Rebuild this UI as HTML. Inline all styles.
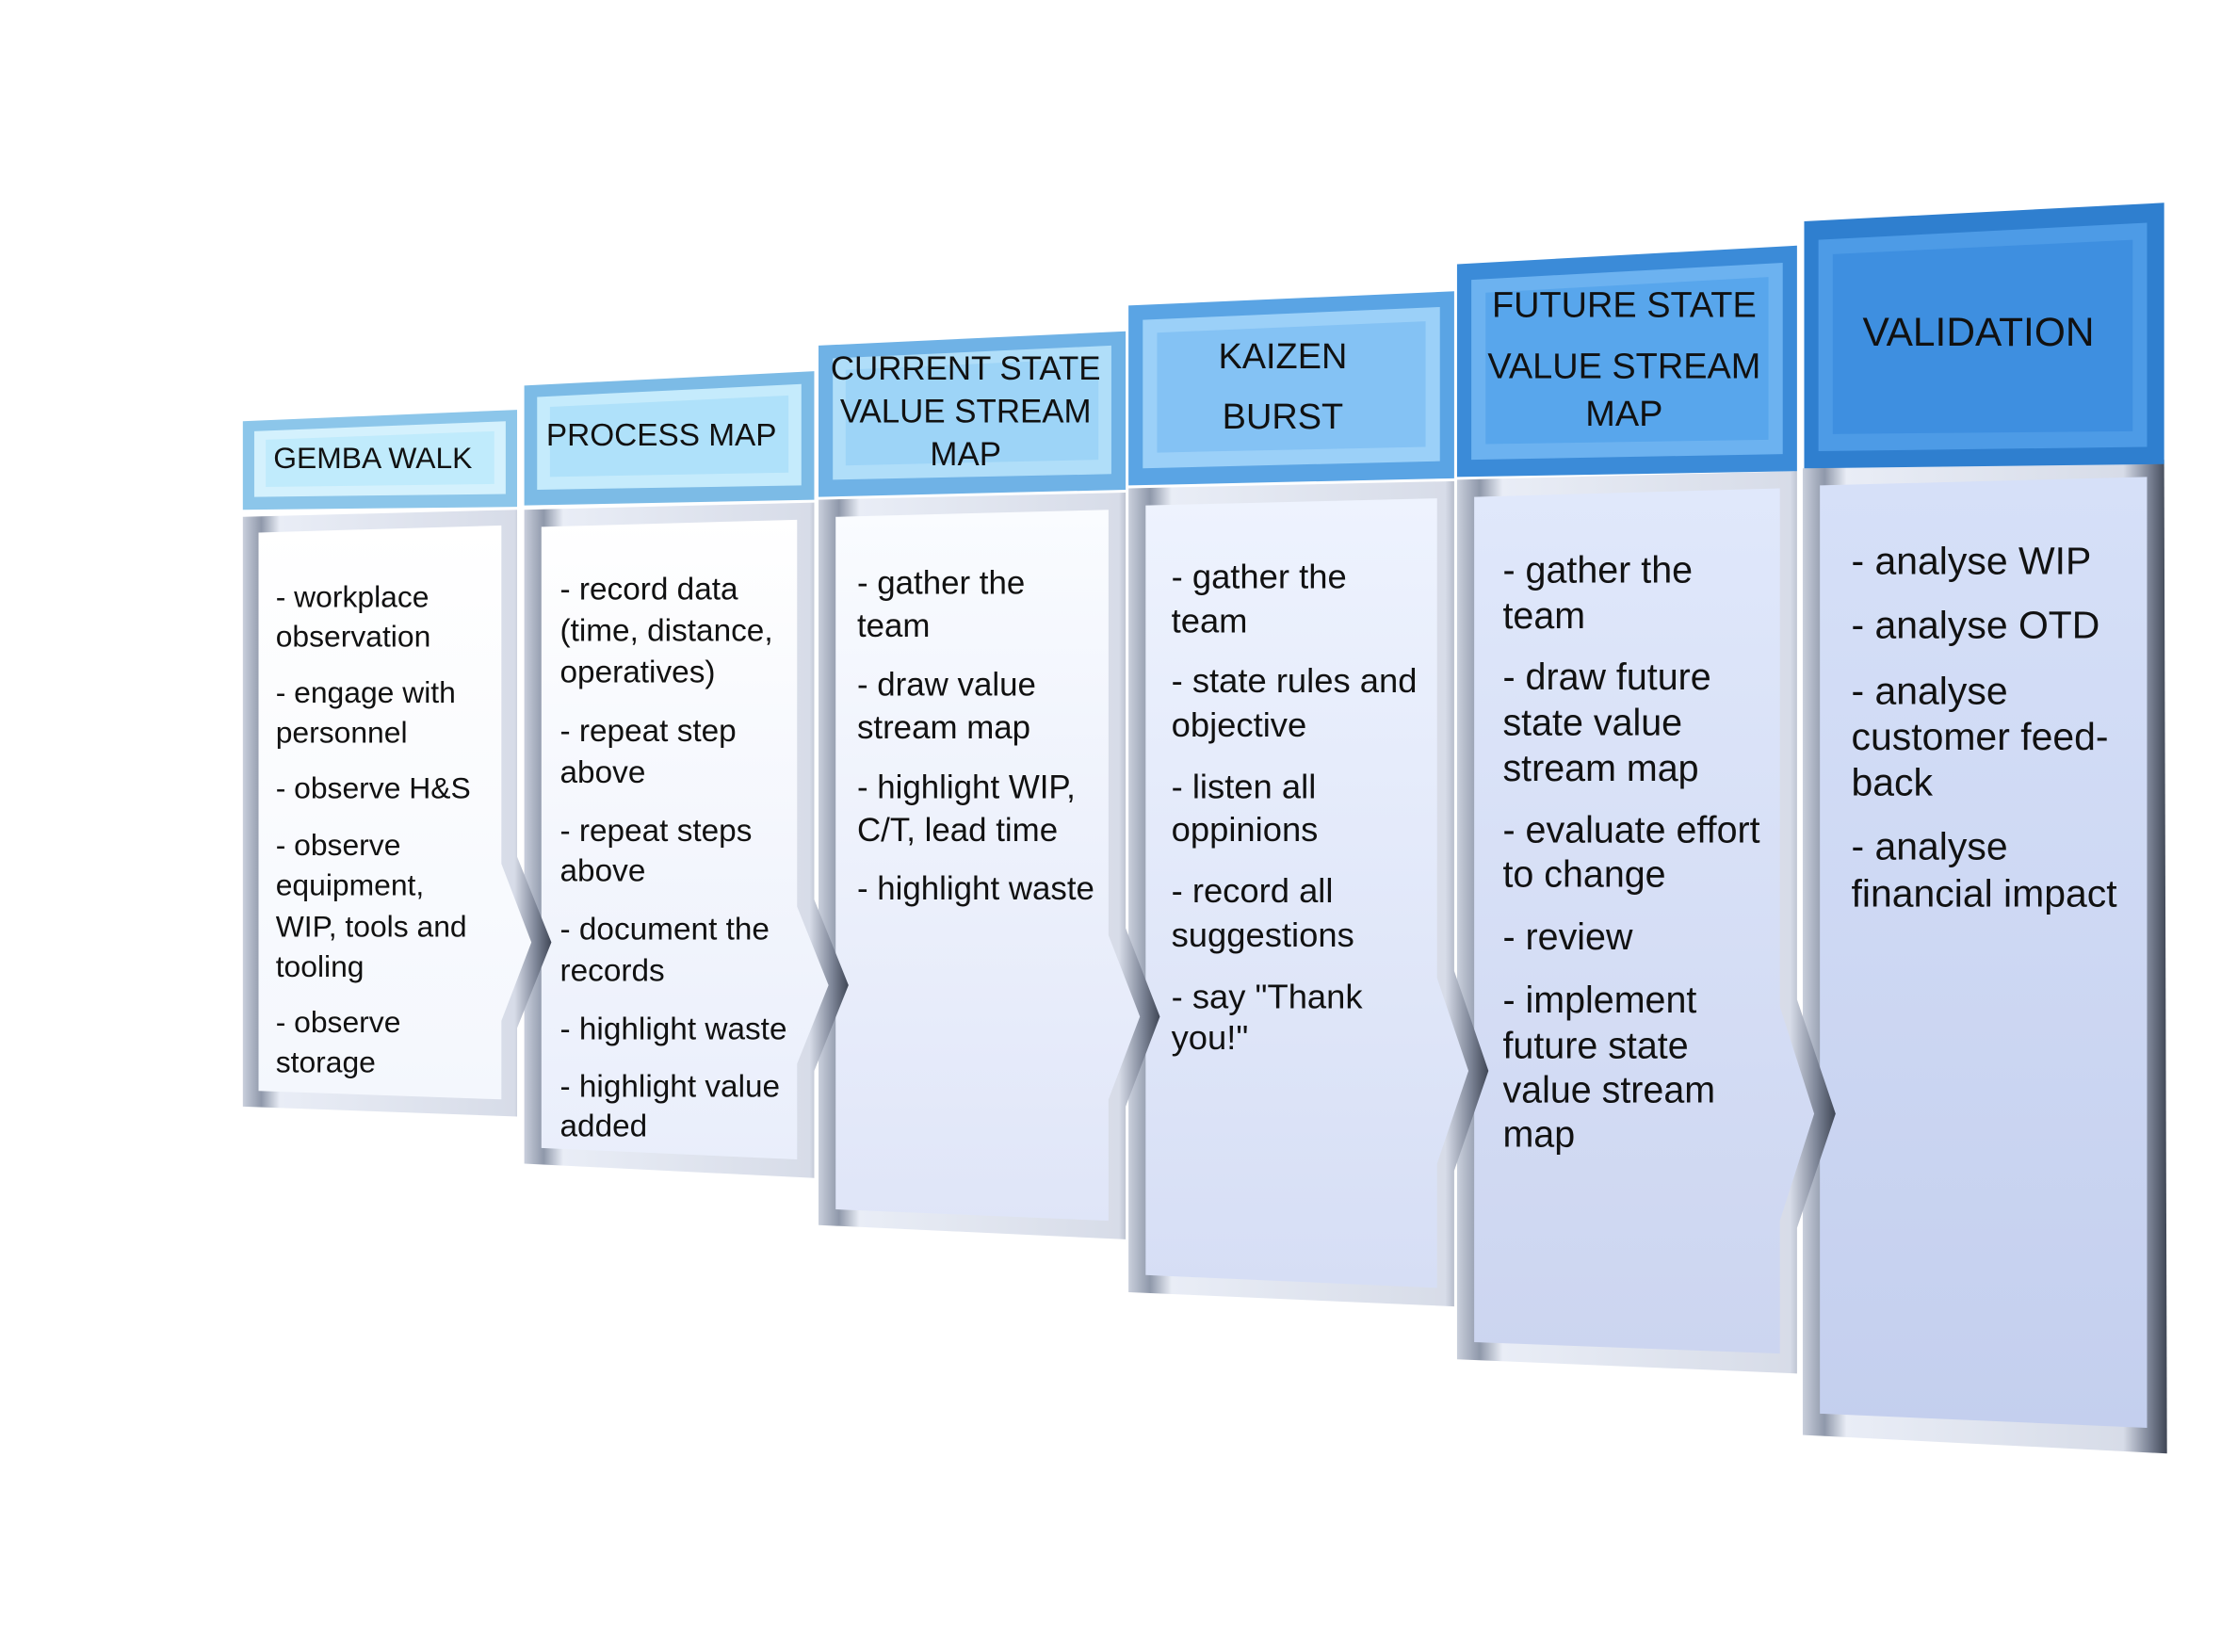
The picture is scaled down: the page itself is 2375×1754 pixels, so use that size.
<!DOCTYPE html>
<html><head><meta charset="utf-8"><style>
html,body{margin:0;padding:0;background:#fff;}
svg{display:block;}
text{font-family:"Liberation Sans",sans-serif;fill:#111;}
</style></head><body>
<svg width="2375" height="1754" viewBox="0 0 1566 1157" preserveAspectRatio="none" xmlns="http://www.w3.org/2000/svg">
<defs>
<linearGradient id="frame" x1="0" y1="0" x2="1" y2="0">
<stop offset="0" stop-color="#c9cfdc"/><stop offset="0.06" stop-color="#8f98aa"/><stop offset="0.12" stop-color="#e9edf6"/><stop offset="0.88" stop-color="#d7dce8"/><stop offset="0.95" stop-color="#7d8597"/><stop offset="1" stop-color="#3f4655"/>
</linearGradient>
<linearGradient id="b1" x1="0" y1="0" x2="0" y2="1"><stop offset="0" stop-color="#ffffff"/><stop offset="1" stop-color="#f4f7fd"/></linearGradient>
<linearGradient id="b2" x1="0" y1="0" x2="0" y2="1"><stop offset="0" stop-color="#ffffff"/><stop offset="1" stop-color="#e9eefb"/></linearGradient>
<linearGradient id="b3" x1="0" y1="0" x2="0" y2="1"><stop offset="0" stop-color="#fafcff"/><stop offset="1" stop-color="#dfe5f8"/></linearGradient>
<linearGradient id="b4" x1="0" y1="0" x2="0" y2="1"><stop offset="0" stop-color="#eef3fe"/><stop offset="1" stop-color="#d6def5"/></linearGradient>
<linearGradient id="b5" x1="0" y1="0" x2="0" y2="1"><stop offset="0" stop-color="#e0e8fb"/><stop offset="1" stop-color="#ccd5f0"/></linearGradient>
<linearGradient id="b6" x1="0" y1="0" x2="0" y2="1"><stop offset="0" stop-color="#d6e0f8"/><stop offset="1" stop-color="#c4cfee"/></linearGradient>
</defs>

<!-- Column 6 Validation -->
<polygon points="1262,328 1515,322 1517,1018 1262,1005" fill="url(#frame)"/>
<polygon points="1274,340 1503,334 1503,1000 1274,990" fill="url(#b6)"/>
<polygon points="1263,155 1515,142 1515,325 1263,328" fill="#2f7fcf"/>
<polygon points="1273,168 1503,156 1503,313 1273,316" fill="#4d9be6"/>
<polygon points="1283,178 1493,168 1493,302 1283,304" fill="#3e8fe0"/>
<text x="1385" y="242" font-size="28" text-anchor="middle">VALIDATION</text>
<g font-size="27">
<text x="1296" y="402">- analyse WIP</text>
<text x="1296" y="447">- analyse OTD</text>
<text x="1296" y="493">- analyse</text>
<text x="1296" y="525">customer feed-</text>
<text x="1296" y="557">back</text>
<text x="1296" y="602">- analyse</text>
<text x="1296" y="635">financial impact</text>
</g>

<!-- Column 5 Future -->
<polygon points="1020,336 1258,330 1258,700 1285,780 1258,860 1258,962 1020,952" fill="url(#frame)"/>
<polygon points="1032,348 1246,342 1246,705 1270,780 1246,855 1246,948 1032,940" fill="url(#b5)"/>
<polygon points="1020,185 1258,172 1258,330 1020,334" fill="#3b8bd8"/>
<polygon points="1030,196 1248,184 1248,318 1030,322" fill="#6cb2f0"/>
<polygon points="1040,205 1238,194 1238,308 1040,311" fill="#58a6ec"/>
<g font-size="25" text-anchor="middle">
<text x="1137" y="222">FUTURE STATE</text>
<text x="1137" y="265">VALUE STREAM</text>
<text x="1137" y="298">MAP</text>
</g>
<g font-size="26">
<text x="1052" y="408">- gather the</text>
<text x="1052" y="440">team</text>
<text x="1052" y="483">- draw future</text>
<text x="1052" y="515">state value</text>
<text x="1052" y="547">stream map</text>
<text x="1052" y="590">- evaluate effort</text>
<text x="1052" y="621">to change</text>
<text x="1052" y="665">- review</text>
<text x="1052" y="709">- implement</text>
<text x="1052" y="741">future state</text>
<text x="1052" y="772">value stream</text>
<text x="1052" y="803">map</text>
</g>

<!-- Column 4 Kaizen -->
<polygon points="790,342 1018,337 1018,680 1042,750 1018,820 1018,915 790,905" fill="url(#frame)"/>
<polygon points="802,354 1006,349 1006,685 1028,750 1006,815 1006,902 802,893" fill="url(#b4)"/>
<polygon points="790,214 1018,204 1018,335 790,340" fill="#5aa4e4"/>
<polygon points="800,224 1008,215 1008,323 800,328" fill="#9bd0f8"/>
<polygon points="810,233 998,225 998,313 810,317" fill="#84c2f4"/>
<g font-size="25" text-anchor="middle">
<text x="898" y="258">KAIZEN</text>
<text x="898" y="300">BURST</text>
</g>
<g font-size="24">
<text x="820" y="412">- gather the</text>
<text x="820" y="443">team</text>
<text x="820" y="485">- state rules and</text>
<text x="820" y="516">objective</text>
<text x="820" y="559">- listen all</text>
<text x="820" y="589">oppinions</text>
<text x="820" y="632">- record all</text>
<text x="820" y="663">suggestions</text>
<text x="820" y="706">- say "Thank</text>
<text x="820" y="735">you!"</text>
</g>

<!-- Column 3 Current -->
<polygon points="573,350 788,345 788,650 812,712 788,775 788,868 573,858" fill="url(#frame)"/>
<polygon points="585,362 776,357 776,655 798,712 776,770 776,855 585,847" fill="url(#b3)"/>
<polygon points="573,242 788,232 788,343 573,348" fill="#6fb2e6"/>
<polygon points="583,251 778,242 778,332 583,336" fill="#b0def9"/>
<polygon points="592,259 769,251 769,322 592,326" fill="#9dd4f7"/>
<g font-size="23" text-anchor="middle">
<text x="676" y="266">CURRENT STATE</text>
<text x="676" y="296">VALUE STREAM</text>
<text x="676" y="326">MAP</text>
</g>
<g font-size="23">
<text x="600" y="416">- gather the</text>
<text x="600" y="446">team</text>
<text x="600" y="487">- draw value</text>
<text x="600" y="517">stream map</text>
<text x="600" y="559">- highlight WIP,</text>
<text x="600" y="589">C/T, lead time</text>
<text x="600" y="630">- highlight waste</text>
</g>

<!-- Column 2 Process -->
<polygon points="367,357 570,352 570,630 594,690 570,750 570,825 367,815" fill="url(#frame)"/>
<polygon points="379,369 558,364 558,635 580,690 558,745 558,812 379,804" fill="url(#b2)"/>
<polygon points="367,270 570,260 570,350 367,354" fill="#7cbbe6"/>
<polygon points="376,278 561,269 561,340 376,343" fill="#c5ebfc"/>
<polygon points="385,285 552,277 552,331 385,334" fill="#afe1fa"/>
<text x="463" y="312" font-size="22" text-anchor="middle">PROCESS MAP</text>
<g font-size="22">
<text x="392" y="420">- record data</text>
<text x="392" y="449">(time, distance,</text>
<text x="392" y="478">operatives)</text>
<text x="392" y="519">- repeat step</text>
<text x="392" y="548">above</text>
<text x="392" y="589">- repeat steps</text>
<text x="392" y="617">above</text>
<text x="392" y="658">- document the</text>
<text x="392" y="687">records</text>
<text x="392" y="728">- highlight waste</text>
<text x="392" y="768">- highlight value</text>
<text x="392" y="796">added</text>
</g>

<!-- Column 1 Gemba -->
<polygon points="170,362 362,357 362,600 386,660 362,720 362,782 170,775" fill="url(#frame)"/>
<polygon points="181,373 351,368 351,605 372,660 351,715 351,770 181,764" fill="url(#b1)"/>
<polygon points="170,295 362,287 362,355 170,357" fill="#8cc6ea"/>
<polygon points="178,302 354,295 354,346 178,348" fill="#d4f1fd"/>
<polygon points="186,308 346,302 346,339 186,341" fill="#c0ebfc"/>
<text x="261" y="328" font-size="21" text-anchor="middle">GEMBA WALK</text>
<g font-size="21">
<text x="193" y="425">- workplace</text>
<text x="193" y="453">observation</text>
<text x="193" y="492">- engage  with</text>
<text x="193" y="520">personnel</text>
<text x="193" y="559">- observe H&amp;S</text>
<text x="193" y="599">- observe</text>
<text x="193" y="627">equipment,</text>
<text x="193" y="656">WIP, tools and</text>
<text x="193" y="684">tooling</text>
<text x="193" y="723">- observe</text>
<text x="193" y="751">storage</text>
</g>
</svg>
</body></html>
